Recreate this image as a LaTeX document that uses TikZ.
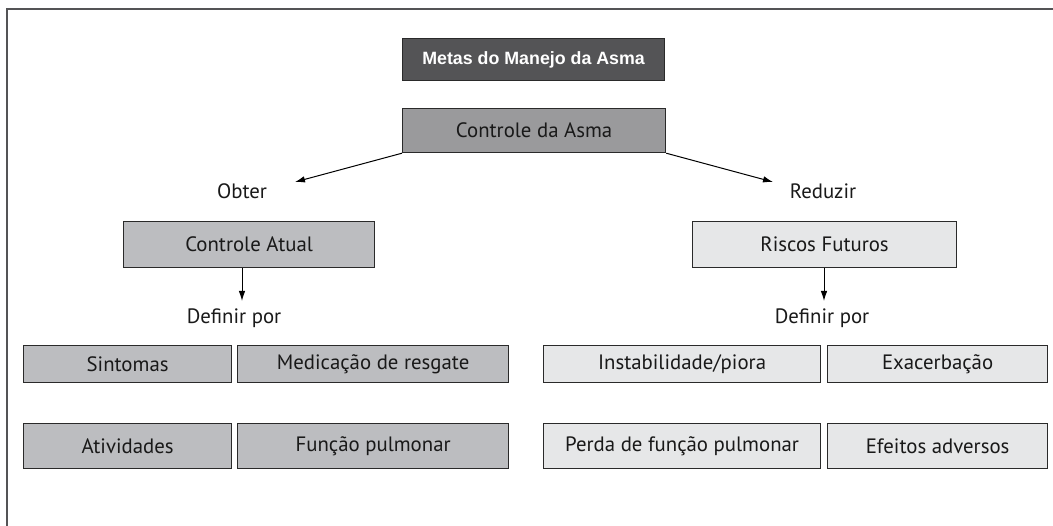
\documentclass[tikz,border=0pt]{standalone}
\usepackage{fontspec}
\setmainfont{PT Sans}
\newfontfamily\titlefont{Liberation Sans}
\usetikzlibrary{arrows.meta}
\definecolor{cdark}{HTML}{545456}
\definecolor{cmid}{HTML}{9A9A9C}
\definecolor{clight}{HTML}{BCBDC0}
\definecolor{cpale}{HTML}{E6E7E8}
\definecolor{cline}{HTML}{2A2A2A}
\tikzset{
  box/.style={draw=cline, line width=1.2pt, inner sep=0pt, anchor=north west, font=\fontsize{20.8}{24}\selectfont, text=black!90},
  lbl/.style={font=\fontsize{20.8}{24}\selectfont, text=black!90},
  arr/.style={line width=1pt, draw=black, -{Latex[length=10pt,width=6.5pt]}},
}
\begin{document}
\begin{tikzpicture}[x=1pt,y=-1pt]
\useasboundingbox (0,0) rectangle (1053,526);
\draw[line width=1.5pt, draw=cdark] (7,526) -- (7,9) -- (1053,9);
% title
\node[box, fill=cdark, minimum width=262pt, minimum height=42pt, text=white, font=\titlefont\bfseries\fontsize{17.8}{20}\selectfont] (title) at (402,38) {Metas do Manejo da Asma};
\node[box, fill=cmid, minimum width=263pt, minimum height=44pt] (ca) at (402,108) {Controle da Asma};
\node[lbl] (obter) at (242,191) {Obter};
\node[lbl] (reduzir) at (823,191) {Reduzir};
\coordinate (obtip) at (295,182);
\coordinate (retip) at (773,182);
\draw[arr] (ca.south west) -- (obtip);
\draw[arr] (ca.south east) -- (retip);
\node[box, fill=clight, minimum width=251pt, minimum height=46pt] (atual) at (123,221) {Controle Atual};
\node[box, fill=cpale, minimum width=264pt, minimum height=46pt] (futuros) at (692,221) {Riscos Futuros};
\coordinate (ltip) at (242,301);
\coordinate (rtip) at (824,301);
\draw[arr] (atual.south -| ltip) -- (ltip);
\draw[arr] (futuros.south -| rtip) -- (rtip);
\node[lbl] (defl) at (234,318) {Definir por};
\node[lbl] (defr) at (822,318) {Definir por};
% left boxes
\node[box, fill=clight, minimum width=208pt, minimum height=37pt] (sint) at (23,345) {Sintomas};
\node[box, fill=clight, minimum width=271pt, minimum height=37pt] (med) at (237,345) {Medicação de resgate};
\node[box, fill=clight, minimum width=208pt, minimum height=45pt] (ativ) at (23,423) {Atividades};
\node[box, fill=clight, minimum width=271pt, minimum height=45pt] (func) at (237,423) {Função pulmonar};
% right boxes
\node[box, fill=cpale, minimum width=277pt, minimum height=37pt] (inst) at (543,345) {Instabilidade/piora};
\node[box, fill=cpale, minimum width=220pt, minimum height=37pt] (exac) at (827,345) {Exacerbação};
\node[box, fill=cpale, minimum width=277pt, minimum height=45pt] (perda) at (543,423) {Perda de função pulmonar};
\node[box, fill=cpale, minimum width=220pt, minimum height=45pt] (efei) at (827,423) {Efeitos adversos};
\end{tikzpicture}
\end{document}
